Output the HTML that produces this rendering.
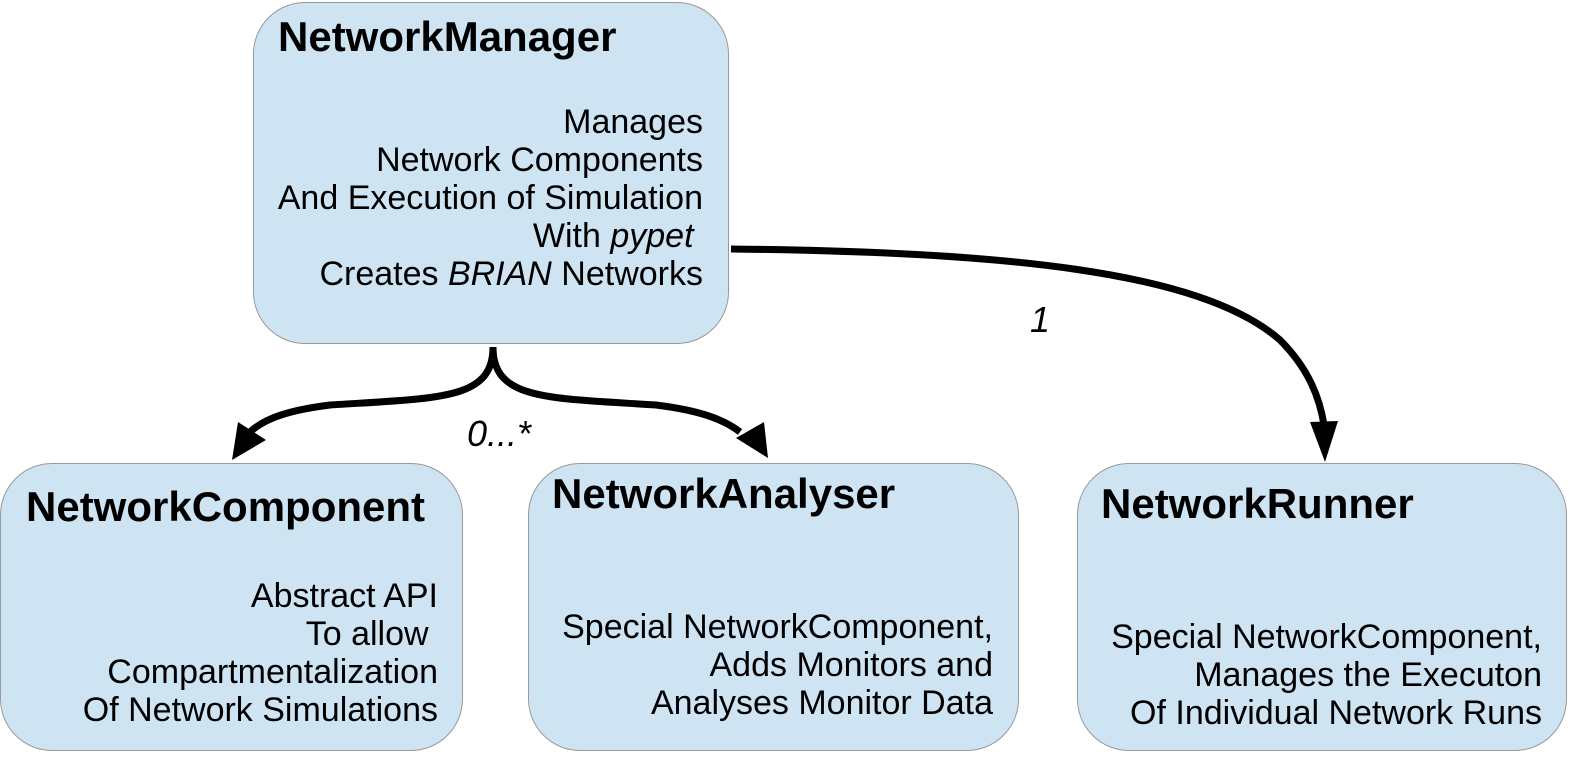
<!DOCTYPE html>
<html><head><meta charset="utf-8"><style>
body{margin:0;width:1596px;height:765px;background:#fff;overflow:hidden;font-family:"Liberation Sans",sans-serif}
.b{position:absolute;background:#cfe4f2;border:1.5px solid #999;border-radius:52px;box-sizing:border-box}
.t{position:absolute;font-weight:bold;font-size:42px;color:#000;line-height:48px}
.d{position:absolute;font-size:34px;line-height:38px;text-align:right;color:#000;white-space:nowrap}
</style></head><body>
<div class="b" style="left:253px;top:2px;width:476px;height:342px"></div>
<div class="t" style="left:278px;top:13px">NetworkManager</div>
<div class="d" style="right:893px;top:103px">Manages<br>Network Components<br>And Execution of Simulation<br>With <i>pypet</i>&nbsp;<br>Creates <i>BRIAN</i> Networks</div>

<div class="b" style="left:0;top:463px;width:463px;height:288px"></div>
<div class="t" style="left:26px;top:483px">NetworkComponent</div>
<div class="d" style="right:1158px;top:577px">Abstract API<br>To allow&nbsp;<br>Compartmentalization<br>Of Network Simulations</div>

<div class="b" style="left:528px;top:463px;width:491px;height:288px"></div>
<div class="t" style="left:552px;top:470px">NetworkAnalyser</div>
<div class="d" style="right:603px;top:608px">Special NetworkComponent,<br>Adds Monitors and<br>Analyses Monitor Data</div>

<div class="b" style="left:1077px;top:463px;width:490px;height:288px"></div>
<div class="t" style="left:1101px;top:480px">NetworkRunner</div>
<div class="d" style="right:54px;top:618px">Special NetworkComponent,<br>Manages the Executon<br>Of Individual Network Runs</div>

<svg width="1596" height="765" style="position:absolute;left:0;top:0">
<g fill="none" stroke="#000" stroke-width="7">
<path d="M493 347 C493 400 440 398 330 405 C290 410 265 418 250 432"/>
<path d="M493 347 C493 400 546 398 656 405 C696 410 722 418 740 432"/>
<path d="M731 249 C1000 252 1200 270 1280 340 C1310 370 1320 400 1324 425"/>
</g>
<polygon points="232,460 238,422 266,440" fill="#000"/>
<polygon points="768,458 736,438 764,422" fill="#000"/>
<polygon points="1325,462 1310,422 1338,421" fill="#000"/>
<text x="467" y="446" font-size="36" font-style="italic" font-family="Liberation Sans">0...*</text>
<text x="1030" y="332" font-size="36" font-style="italic" font-family="Liberation Sans">1</text>
</svg>
</body></html>
